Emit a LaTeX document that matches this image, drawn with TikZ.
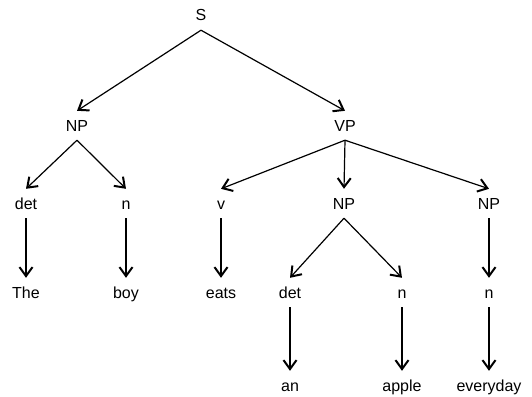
\documentclass[tikz,border=0pt]{standalone}
\usepackage{fontspec}
\setmainfont{Liberation Sans}
\usetikzlibrary{arrows.meta}
\begin{document}
\begin{tikzpicture}[x=1pt, y=-1pt,
  word/.style={anchor=base, inner xsep=2pt, inner ysep=9pt,
    text height=11pt, text depth=0pt,
    font=\fontsize{16}{19}\selectfont},
  edge/.style={line width=1.2pt,
    -{Straight Barb[length=9pt, width=13pt, line width=2pt]}}]
  \useasboundingbox (0,0) rectangle (532,396);

  % level 1
  \node[word] (S)   at (201,21)  {S};
  % level 2
  \node[word] (NPa) at (77,131)  {NP};
  \node[word] (VP)  at (345,131) {VP};
  % level 3
  \node[word] (deta) at (26,209)  {det};
  \node[word] (na)   at (126,209) {n};
  \node[word] (v)    at (221,209) {v};
  \node[word] (NPb)  at (344,209) {NP};
  \node[word] (NPc)  at (489,209) {NP};
  % level 4
  \node[word] (The)  at (26,298)  {The};
  \node[word] (boy)  at (126,298) {boy};
  \node[word] (eats) at (221,298) {eats};
  \node[word] (detb) at (290,298) {det};
  \node[word] (nb)   at (402,298) {n};
  \node[word] (nc)   at (489,298) {n};
  % level 5
  \node[word] (an)       at (290,391) {an};
  \node[word] (apple)    at (402,391) {apple};
  \node[word] (everyday) at (489,391) {everyday};

  % branches
  \draw[edge] (S.south) -- (NPa.north);
  \draw[edge] (S.south) -- (VP.north);
  \draw[edge] (NPa.south) -- (deta.north);
  \draw[edge] (NPa.south) -- (na.north);
  \draw[edge] (VP.south) -- (v.north);
  \draw[edge] (VP.south) -- (NPb.north);
  \draw[edge] (VP.south) -- (NPc.north);
  \draw[edge] (deta.south) -- (The.north);
  \draw[edge] (na.south) -- (boy.north);
  \draw[edge] (v.south) -- (eats.north);
  \draw[edge] (NPb.south) -- (detb.north);
  \draw[edge] (NPb.south) -- (nb.north);
  \draw[edge] (NPc.south) -- (nc.north);
  \draw[edge] (detb.south) -- (an.north);
  \draw[edge] (nb.south) -- (apple.north);
  \draw[edge] (nc.south) -- (everyday.north);
\end{tikzpicture}
\end{document}
